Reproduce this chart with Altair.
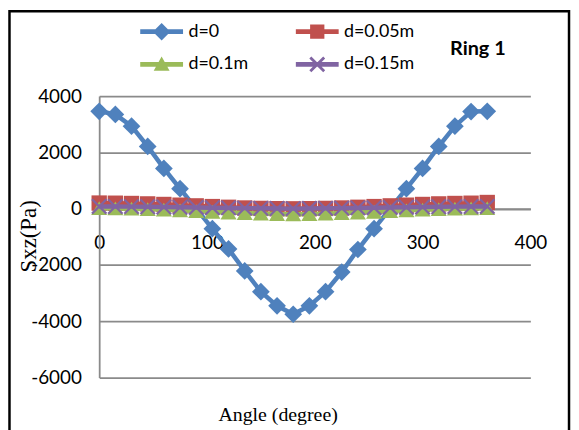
import altair as alt
import pandas as pd

# ---------------- data ----------------
angles = list(range(0, 361, 15))
series_names = ["d=0", "d=0.05m", "d=0.1m", "d=0.15m"]
d0 = [3460, 3350, 2930, 2210, 1430, 710, 0, -710, -1430, -2210, -2950, -3450, -3750,
      -3450, -2950, -2250, -1450, -710, 0, 710, 1430, 2210, 2930, 3450, 3460]
d005 = [200, 195, 185, 170, 150, 125, 100, 75, 50, 25, 10, 0, -5,
        0, 10, 25, 50, 75, 100, 125, 150, 170, 185, 195, 220]
d01 = [20, 10, 0, -15, -35, -60, -85, -110, -135, -155, -175, -190, -200,
       -190, -175, -155, -135, -110, -85, -60, -35, -15, 0, 10, 20]
d015 = [80, 78, 74, 68, 60, 52, 44, 36, 28, 20, 12, 6, 2,
        6, 12, 20, 28, 36, 44, 52, 60, 68, 74, 78, 80]
series_values = [d0, d005, d01, d015]
colors = ["#4F81BD", "#C0504D", "#9BBB59", "#8064A2"]
legend_order = ["d=0", "d=0.1m", "d=0.05m", "d=0.15m"]
x_ticks = [0, 100, 200, 300, 400]
y_ticks = [-6000, -4000, -2000, 0, 2000, 4000]
x_title = "Angle (degree)"
y_title = "Sxz(Pa)"
ring_label = ["Ring 1"]

rows = []
for name, vals in zip(series_names, series_values):
    for a, v in zip(angles, vals):
        rows.append({"angle": a, "value": v, "series": name})
df = pd.DataFrame(rows)

# ---------------- layout ----------------
W, H = 435, 284
YMIN, YMAX = -6000, 4000
x_axis_offset = -H * (0 - YMIN) / (YMAX - YMIN)
GRID = "#8a8a8a"

X_PATH = "M-1,-1L1,1M-1,1L1,-1"
marker_shapes = ["diamond", "square", "triangle-up", X_PATH]
marker_sizes = [320, 240, 260, 210]
marker_filled = [True, True, True, False]

LINE = "M-2.7,-0.3H2.7V0.3H-2.7Z"
legend_paths = {
    "d=0": LINE + "M0,-1.1L1.1,0L0,1.1L-1.1,0Z",
    "d=0.05m": LINE + "M-0.9,-0.9H0.9V0.9H-0.9Z",
    "d=0.1m": LINE + "M0,-1L1,0.8H-1Z",
    "d=0.15m": LINE + "M-1,-0.75L-0.75,-1L1,0.75L0.75,1ZM0.75,-1L1,-0.75L-0.75,1L-1,0.75Z",
}
color_map = dict(zip(series_names, colors))

legend = alt.Legend(
    title=None, orient="none", legendX=54, legendY=-74, columns=2,
    columnPadding=47, rowPadding=15, padding=0,
    symbolSize=256, symbolStrokeWidth=0, symbolOpacity=1,
    labelFont="Lato", labelFontSize=18, labelColor="black", labelOffset=18,
)

x_axis = alt.Axis(
    values=x_ticks, grid=False, ticks=False, domain=True, domainColor=GRID, domainWidth=1.8,
    offset=x_axis_offset, labelPadding=25, labelFlush=False,
    labelFont="Lato", labelFontSize=19, labelColor="black",
    title=x_title, titleFont="Liberation Serif", titleFontSize=20, titleFontWeight="normal",
    titleColor="black", titleX=180, titleY=214, titleAlign="center", titleBaseline="alphabetic",
)
y_axis = alt.Axis(
    values=y_ticks, grid=True, gridColor=GRID, gridWidth=1.8, ticks=False,
    domain=True, domainColor=GRID, domainWidth=1.8, labelPadding=18, labelFlush=False,
    labelExpr="datum.value + ''",
    labelFont="Lato", labelFontSize=19, labelColor="black",
    title=y_title, titleFont="Liberation Serif", titleFontSize=23, titleFontWeight="normal",
    titleColor="black", titleX=-71, titleY=141, titleAngle=270, titleAlign="center",
    titleBaseline="middle",
)

x_enc = alt.X("angle:Q", scale=alt.Scale(domain=[0, 400], nice=False, zero=False), axis=x_axis)
y_enc = alt.Y("value:Q", scale=alt.Scale(domain=[YMIN, YMAX], nice=False), axis=y_axis)

base = alt.Chart(df)

border = alt.Chart(pd.DataFrame({"k": [0]})).mark_rect(
    fill="transparent", stroke="black", strokeWidth=2.5
).encode(x=alt.value(-90.5), x2=alt.value(474), y=alt.value(-85.5), y2=alt.value(360))

layers = [border]
for name, c, shp, sz, fl in zip(series_names, colors, marker_shapes, marker_sizes, marker_filled):
    sub = base.transform_filter(alt.datum.series == name)
    line = sub.mark_line(color=c, strokeWidth=4.5).encode(x=x_enc, y=y_enc)
    if fl:
        pts = sub.mark_point(shape=shp, size=sz, filled=True, opacity=1, strokeWidth=0, color=c)
    else:
        pts = sub.mark_point(shape=shp, size=sz, filled=False, opacity=1, strokeWidth=2.2, color=c)
    pts = pts.encode(x=x_enc, y=y_enc)
    layers += [line, pts]

# legend-only layer (zero-size points) carrying colour + line/marker symbols
legend_layer = base.mark_point(size=0, filled=True).encode(
    x=x_enc, y=y_enc,
    color=alt.Color("series:N",
                    scale=alt.Scale(domain=legend_order, range=[color_map[n] for n in legend_order]),
                    sort=legend_order, legend=legend),
    shape=alt.Shape("series:N",
                    scale=alt.Scale(domain=legend_order, range=[legend_paths[n] for n in legend_order]),
                    sort=legend_order, legend=legend),
)
layers.append(legend_layer)

ring = alt.Chart(pd.DataFrame({"label": ring_label})).mark_text(
    font="Lato", fontWeight="bold", fontSize=20, align="center", baseline="alphabetic", color="black"
).encode(text="label:N", x=alt.value(382), y=alt.value(-41))
layers.append(ring)

chart = alt.layer(*layers).properties(
    width=W, height=H,
    autosize=alt.AutoSizeParams(type="none"),
    padding={"left": 92, "top": 87, "right": 41, "bottom": 51},
    background="white",
).configure_view(stroke=None)

chart.save("out.html", embed_options={"renderer": "svg", "actions": False})
